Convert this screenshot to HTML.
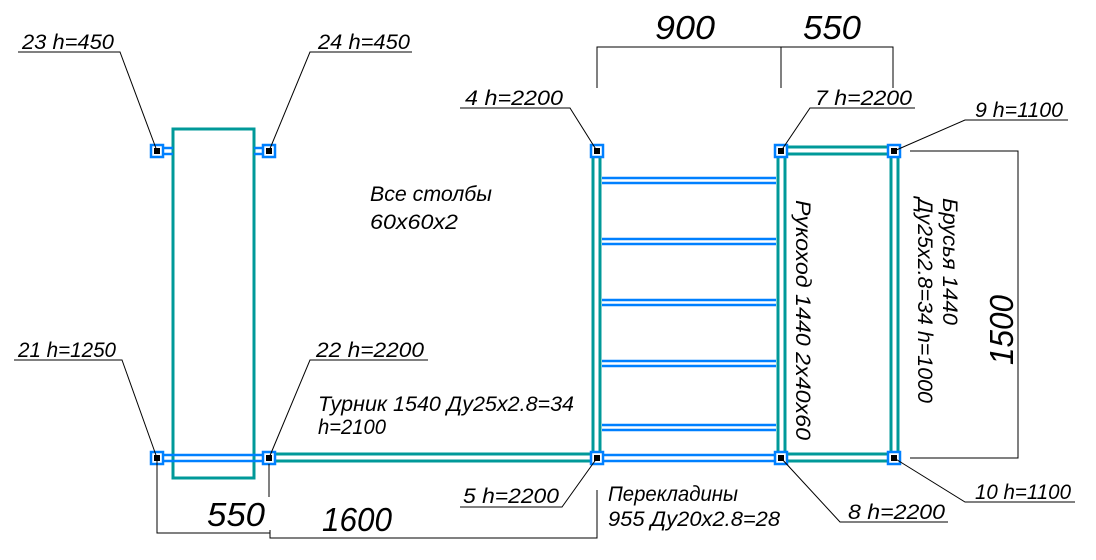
<!DOCTYPE html>
<html><head><meta charset="utf-8"><style>html,body{margin:0;padding:0;background:#fff}svg{display:block}</style></head>
<body>
<svg width="1096" height="560" viewBox="0 0 1096 560" xmlns="http://www.w3.org/2000/svg" font-family="Liberation Sans, sans-serif" font-style="italic" fill="#000">
<g fill="none" stroke-width="3">
<rect x="173" y="129" width="81" height="349" stroke="#009999"/>
<g stroke="#0080ff" stroke-width="2.5">
<line x1="162" y1="148" x2="173" y2="148"/><line x1="162" y1="154" x2="173" y2="154"/>
<line x1="254" y1="148" x2="264" y2="148"/><line x1="254" y1="154" x2="264" y2="154"/>
<line x1="162" y1="455" x2="264" y2="455"/><line x1="162" y1="461" x2="264" y2="461"/>
<line x1="602" y1="455" x2="776" y2="455"/><line x1="602" y1="461" x2="776" y2="461"/>
<line x1="602" y1="178" x2="776" y2="178"/><line x1="602" y1="183" x2="776" y2="183"/>
<line x1="602" y1="239" x2="776" y2="239"/><line x1="602" y1="244" x2="776" y2="244"/>
<line x1="602" y1="300" x2="776" y2="300"/><line x1="602" y1="305" x2="776" y2="305"/>
<line x1="602" y1="361" x2="776" y2="361"/><line x1="602" y1="366" x2="776" y2="366"/>
<line x1="602" y1="425" x2="776" y2="425"/><line x1="602" y1="430" x2="776" y2="430"/>
</g>
<g stroke="#009999" stroke-width="3">
<line x1="274" y1="454" x2="592" y2="454"/><line x1="274" y1="461" x2="592" y2="461"/>
<line x1="593" y1="156" x2="593" y2="453"/><line x1="600" y1="156" x2="600" y2="453"/>
<line x1="778" y1="156" x2="778" y2="453"/><line x1="785" y1="156" x2="785" y2="453"/>
<line x1="891" y1="156" x2="891" y2="453"/><line x1="898" y1="156" x2="898" y2="453"/>
<line x1="786" y1="147" x2="889" y2="147"/><line x1="786" y1="154" x2="889" y2="154"/>
<line x1="786" y1="454" x2="889" y2="454"/><line x1="786" y1="461" x2="889" y2="461"/>
</g>
<g stroke="#0080ff" stroke-width="2.5">
<rect x="151" y="145" width="12" height="12"/><rect x="263" y="145" width="12" height="12"/>
<rect x="151" y="452" width="12" height="12"/><rect x="263" y="452" width="12" height="12"/>
<rect x="591" y="145" width="12" height="12"/><rect x="775" y="145" width="12" height="12"/><rect x="888" y="145" width="12" height="12"/>
<rect x="591" y="452" width="12" height="12"/><rect x="775" y="452" width="12" height="12"/><rect x="888" y="452" width="12" height="12"/>
</g>
<g stroke="#000" stroke-width="1">
<polyline points="18,52 120,52 157,151"/>
<polyline points="412,52 310,52 269,151"/>
<polyline points="460,108 570,108 597,151"/>
<polyline points="915,108 810,108 781,151"/>
<polyline points="1068,120 965,120 894,151"/>
<polyline points="14,360 122,360 157,458"/>
<polyline points="428,360 310,360 269,458"/>
<polyline points="460,507 562,507 597,458"/>
<polyline points="948,522 840,522 781,458"/>
<polyline points="1075,502 965,502 894,458"/>
<polyline points="597,88 597,47 893,47 893,88"/>
<line x1="781" y1="47" x2="781" y2="88"/>
<polyline points="910,151 1018,151 1018,458 910,458"/>
<polyline points="157,458 157,533 270,533"/>
<line x1="269" y1="464" x2="269" y2="497"/>
<polyline points="270,530 270,538 597,538 597,490"/>
</g>
</g>
<g fill="#000">
<rect x="154" y="148" width="6" height="6"/><rect x="266" y="148" width="6" height="6"/>
<rect x="154" y="455" width="6" height="6"/><rect x="266" y="455" width="6" height="6"/>
<rect x="594" y="148" width="6" height="6"/><rect x="778" y="148" width="6" height="6"/><rect x="891" y="148" width="6" height="6"/>
<rect x="594" y="455" width="6" height="6"/><rect x="778" y="455" width="6" height="6"/><rect x="891" y="455" width="6" height="6"/>
</g>
<g font-size="21" lengthAdjust="spacingAndGlyphs">
<text x="22" y="49" textLength="92" lengthAdjust="spacingAndGlyphs">23 h=450</text>
<text x="318" y="49" textLength="92" lengthAdjust="spacingAndGlyphs">24 h=450</text>
<text x="465" y="105" textLength="98" lengthAdjust="spacingAndGlyphs">4 h=2200</text>
<text x="815" y="105" textLength="97" lengthAdjust="spacingAndGlyphs">7 h=2200</text>
<text x="975" y="117" textLength="88" lengthAdjust="spacingAndGlyphs">9 h=1100</text>
<text x="18" y="357" textLength="98" lengthAdjust="spacingAndGlyphs">21 h=1250</text>
<text x="316" y="357" textLength="108" lengthAdjust="spacingAndGlyphs">22 h=2200</text>
<text x="463" y="503" textLength="96" lengthAdjust="spacingAndGlyphs">5 h=2200</text>
<text x="848" y="519" textLength="97" lengthAdjust="spacingAndGlyphs">8 h=2200</text>
<text x="975" y="499" textLength="96" lengthAdjust="spacingAndGlyphs">10 h=1100</text>
<text x="370" y="201" textLength="122" lengthAdjust="spacingAndGlyphs">Все столбы</text>
<text x="370" y="229" textLength="88" lengthAdjust="spacingAndGlyphs">60x60x2</text>
<text x="318" y="411" textLength="256" lengthAdjust="spacingAndGlyphs">Турник 1540 Ду25x2.8=34</text>
<text x="318" y="434" textLength="68" lengthAdjust="spacingAndGlyphs">h=2100</text>
<text x="608" y="501" textLength="130" lengthAdjust="spacingAndGlyphs">Перекладины</text>
<text x="608" y="526" textLength="172" lengthAdjust="spacingAndGlyphs">955 Ду20x2.8=28</text>
<text transform="translate(796,200) rotate(90)" textLength="240" lengthAdjust="spacingAndGlyphs">Рукоход 1440 2x40x60</text>
<text transform="translate(943,198) rotate(90)" textLength="127" lengthAdjust="spacingAndGlyphs">Брусья 1440</text>
<text transform="translate(918,198) rotate(90)" textLength="205" lengthAdjust="spacingAndGlyphs">Ду25x2.8=34 h=1000</text>
</g>
<g font-size="33">
<text x="655" y="39" textLength="60" lengthAdjust="spacingAndGlyphs">900</text>
<text x="803" y="39" textLength="58" lengthAdjust="spacingAndGlyphs">550</text>
<text transform="translate(1013,365) rotate(-90)" textLength="70" lengthAdjust="spacingAndGlyphs">1500</text>
<text x="207" y="526" textLength="58" lengthAdjust="spacingAndGlyphs">550</text>
<text x="322" y="531" textLength="70" lengthAdjust="spacingAndGlyphs">1600</text>
</g>
</svg>
</body></html>
